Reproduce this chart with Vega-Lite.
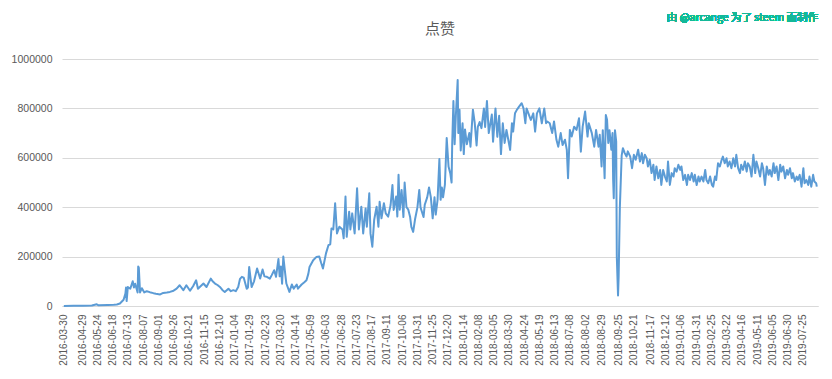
{
  "$schema": "https://vega.github.io/schema/vega-lite/v6.json",
  "autosize": "none",
  "width": 756,
  "height": 247,
  "padding": {"left": 62, "top": 59, "right": 14, "bottom": 73},
  "background": "#ffffff",
  "title": {"text": "点赞", "fontSize": 15, "font": "Noto Sans CJK SC", "fontWeight": "normal", "color": "#595959", "anchor": "middle", "offset": 16, "dy": 40},
  "config": {"view": {"stroke": null}, "axisX": {"labelOverlap": false, "labelSeparation": 0}},
  "data": {"values": [
    {"date":"2016-03-30","value":500},{"date":"2016-04-15","value":1000},{"date":"2016-05-01","value":1500},{"date":"2016-05-15","value":2000},{"date":"2016-05-23","value":7000},{"date":"2016-05-26","value":3000},{"date":"2016-06-10","value":4000},{"date":"2016-06-20","value":5000},{"date":"2016-06-25","value":6000},{"date":"2016-06-30","value":10000},
    {"date":"2016-07-06","value":25000},{"date":"2016-07-09","value":50000},{"date":"2016-07-10","value":75000},{"date":"2016-07-11","value":20000},{"date":"2016-07-13","value":77000},{"date":"2016-07-17","value":70000},{"date":"2016-07-21","value":100000},{"date":"2016-07-23","value":75000},{"date":"2016-07-25","value":90000},{"date":"2016-07-29","value":55000},{"date":"2016-07-30","value":160000},{"date":"2016-07-31","value":155000},
    {"date":"2016-08-02","value":55000},{"date":"2016-08-05","value":72000},{"date":"2016-08-09","value":55000},{"date":"2016-08-13","value":60000},{"date":"2016-08-18","value":56000},{"date":"2016-08-24","value":52000},{"date":"2016-08-28","value":50000},
    {"date":"2016-09-04","value":47000},{"date":"2016-09-09","value":53000},{"date":"2016-09-15","value":55000},{"date":"2016-09-20","value":57000},{"date":"2016-09-26","value":62000},
    {"date":"2016-10-01","value":70000},{"date":"2016-10-06","value":84000},{"date":"2016-10-12","value":64000},{"date":"2016-10-17","value":84000},{"date":"2016-10-23","value":62000},{"date":"2016-10-28","value":80000},
    {"date":"2016-11-02","value":104000},{"date":"2016-11-05","value":70000},{"date":"2016-11-08","value":77000},{"date":"2016-11-14","value":91000},{"date":"2016-11-19","value":77000},{"date":"2016-11-26","value":111000},{"date":"2016-11-29","value":100000},
    {"date":"2016-12-03","value":91000},{"date":"2016-12-07","value":85000},{"date":"2016-12-11","value":77000},{"date":"2016-12-15","value":65000},{"date":"2016-12-19","value":57000},{"date":"2016-12-25","value":70000},{"date":"2016-12-29","value":60000},
    {"date":"2017-01-02","value":64000},{"date":"2017-01-06","value":60000},{"date":"2017-01-10","value":77000},{"date":"2017-01-13","value":110000},{"date":"2017-01-16","value":118000},{"date":"2017-01-19","value":115000},{"date":"2017-01-24","value":70000},{"date":"2017-01-26","value":75000},{"date":"2017-01-28","value":158000},
    {"date":"2017-02-01","value":77000},{"date":"2017-02-05","value":100000},{"date":"2017-02-10","value":152000},{"date":"2017-02-15","value":111000},{"date":"2017-02-19","value":148000},{"date":"2017-02-22","value":120000},{"date":"2017-02-26","value":118000},
    {"date":"2017-03-03","value":111000},{"date":"2017-03-06","value":125000},{"date":"2017-03-10","value":145000},{"date":"2017-03-13","value":118000},{"date":"2017-03-17","value":190000},{"date":"2017-03-19","value":120000},{"date":"2017-03-21","value":160000},{"date":"2017-03-23","value":90000},{"date":"2017-03-25","value":200000},{"date":"2017-03-28","value":133000},{"date":"2017-03-30","value":91000},
    {"date":"2017-04-04","value":57000},{"date":"2017-04-08","value":87000},{"date":"2017-04-11","value":70000},{"date":"2017-04-16","value":87000},{"date":"2017-04-18","value":70000},{"date":"2017-04-24","value":87000},{"date":"2017-04-28","value":95000},
    {"date":"2017-05-02","value":104000},{"date":"2017-05-05","value":130000},{"date":"2017-05-07","value":158000},{"date":"2017-05-13","value":185000},{"date":"2017-05-18","value":198000},{"date":"2017-05-23","value":200000},{"date":"2017-05-26","value":175000},{"date":"2017-05-29","value":152000},
    {"date":"2017-06-03","value":213000},{"date":"2017-06-07","value":246000},{"date":"2017-06-10","value":250000},{"date":"2017-06-12","value":314000},{"date":"2017-06-15","value":310000},{"date":"2017-06-18","value":416000},{"date":"2017-06-21","value":294000},{"date":"2017-06-25","value":321000},{"date":"2017-06-30","value":310000},
    {"date":"2017-07-02","value":274000},{"date":"2017-07-05","value":443000},{"date":"2017-07-07","value":280000},{"date":"2017-07-11","value":382000},{"date":"2017-07-13","value":310000},{"date":"2017-07-16","value":375000},{"date":"2017-07-20","value":294000},{"date":"2017-07-24","value":477000},{"date":"2017-07-27","value":310000},{"date":"2017-07-31","value":402000},
    {"date":"2017-08-03","value":294000},{"date":"2017-08-07","value":395000},{"date":"2017-08-09","value":321000},{"date":"2017-08-13","value":456000},{"date":"2017-08-15","value":294000},{"date":"2017-08-18","value":240000},{"date":"2017-08-21","value":348000},{"date":"2017-08-25","value":402000},{"date":"2017-08-28","value":321000},{"date":"2017-08-30","value":422000},
    {"date":"2017-09-02","value":355000},{"date":"2017-09-06","value":416000},{"date":"2017-09-09","value":375000},{"date":"2017-09-13","value":362000},{"date":"2017-09-17","value":409000},{"date":"2017-09-20","value":490000},{"date":"2017-09-22","value":389000},{"date":"2017-09-26","value":443000},{"date":"2017-09-28","value":362000},{"date":"2017-09-30","value":531000},
    {"date":"2017-10-02","value":390000},{"date":"2017-10-05","value":470000},{"date":"2017-10-08","value":360000},{"date":"2017-10-10","value":500000},{"date":"2017-10-13","value":400000},{"date":"2017-10-16","value":390000},{"date":"2017-10-19","value":360000},{"date":"2017-10-21","value":320000},{"date":"2017-10-24","value":300000},{"date":"2017-10-27","value":350000},{"date":"2017-10-31","value":400000},
    {"date":"2017-11-03","value":470000},{"date":"2017-11-05","value":400000},{"date":"2017-11-10","value":360000},{"date":"2017-11-12","value":410000},{"date":"2017-11-16","value":440000},{"date":"2017-11-19","value":480000},{"date":"2017-11-22","value":440000},{"date":"2017-11-25","value":355000},{"date":"2017-11-28","value":440000},{"date":"2017-11-30","value":370000},
    {"date":"2017-12-03","value":430000},{"date":"2017-12-06","value":595000},{"date":"2017-12-08","value":430000},{"date":"2017-12-10","value":480000},{"date":"2017-12-12","value":440000},{"date":"2017-12-15","value":490000},{"date":"2017-12-18","value":680000},{"date":"2017-12-21","value":565000},{"date":"2017-12-24","value":535000},{"date":"2017-12-26","value":500000},{"date":"2017-12-27","value":655000},{"date":"2017-12-29","value":830000},{"date":"2017-12-31","value":655000},
    {"date":"2018-01-02","value":770000},{"date":"2018-01-05","value":915000},{"date":"2018-01-06","value":700000},{"date":"2018-01-08","value":795000},{"date":"2018-01-10","value":630000},{"date":"2018-01-13","value":740000},{"date":"2018-01-15","value":615000},{"date":"2018-01-17","value":715000},{"date":"2018-01-20","value":655000},{"date":"2018-01-24","value":700000},{"date":"2018-01-26","value":645000},{"date":"2018-01-30","value":795000},
    {"date":"2018-02-02","value":740000},{"date":"2018-02-05","value":650000},{"date":"2018-02-07","value":725000},{"date":"2018-02-10","value":745000},{"date":"2018-02-13","value":720000},{"date":"2018-02-17","value":800000},{"date":"2018-02-19","value":725000},{"date":"2018-02-22","value":830000},{"date":"2018-02-25","value":700000},
    {"date":"2018-03-02","value":775000},{"date":"2018-03-04","value":665000},{"date":"2018-03-08","value":800000},{"date":"2018-03-11","value":685000},{"date":"2018-03-14","value":770000},{"date":"2018-03-17","value":615000},{"date":"2018-03-20","value":740000},{"date":"2018-03-23","value":660000},{"date":"2018-03-26","value":713000},{"date":"2018-03-29","value":673000},
    {"date":"2018-04-01","value":632000},{"date":"2018-04-04","value":740000},{"date":"2018-04-06","value":706000},{"date":"2018-04-09","value":780000},{"date":"2018-04-12","value":794000},{"date":"2018-04-16","value":808000},{"date":"2018-04-20","value":821000},{"date":"2018-04-23","value":800000},{"date":"2018-04-26","value":740000},{"date":"2018-04-28","value":800000},
    {"date":"2018-05-01","value":780000},{"date":"2018-05-05","value":753000},{"date":"2018-05-09","value":780000},{"date":"2018-05-12","value":706000},{"date":"2018-05-15","value":780000},{"date":"2018-05-19","value":800000},{"date":"2018-05-23","value":740000},{"date":"2018-05-27","value":800000},{"date":"2018-05-30","value":740000},
    {"date":"2018-06-01","value":747000},{"date":"2018-06-05","value":740000},{"date":"2018-06-09","value":700000},{"date":"2018-06-12","value":747000},{"date":"2018-06-16","value":673000},{"date":"2018-06-19","value":645000},{"date":"2018-06-23","value":700000},{"date":"2018-06-26","value":652000},{"date":"2018-06-30","value":673000},
    {"date":"2018-07-03","value":632000},{"date":"2018-07-05","value":517000},{"date":"2018-07-08","value":713000},{"date":"2018-07-11","value":686000},{"date":"2018-07-15","value":726000},{"date":"2018-07-19","value":713000},{"date":"2018-07-23","value":760000},{"date":"2018-07-26","value":625000},{"date":"2018-07-29","value":726000},
    {"date":"2018-08-02","value":787000},{"date":"2018-08-06","value":686000},{"date":"2018-08-08","value":740000},{"date":"2018-08-13","value":700000},{"date":"2018-08-17","value":645000},{"date":"2018-08-20","value":713000},{"date":"2018-08-24","value":645000},{"date":"2018-08-26","value":693000},{"date":"2018-08-29","value":565000},{"date":"2018-08-31","value":712000},
    {"date":"2018-09-03","value":517000},{"date":"2018-09-05","value":773000},{"date":"2018-09-07","value":754000},{"date":"2018-09-09","value":660000},{"date":"2018-09-11","value":712000},{"date":"2018-09-14","value":633000},{"date":"2018-09-16","value":700000},{"date":"2018-09-17","value":510000},{"date":"2018-09-18","value":436000},{"date":"2018-09-20","value":712000},{"date":"2018-09-22","value":666000},{"date":"2018-09-23","value":200000},{"date":"2018-09-25","value":43000},{"date":"2018-09-26","value":118000},{"date":"2018-09-28","value":400000},
    {"date":"2018-10-01","value":610000},{"date":"2018-10-03","value":639000},{"date":"2018-10-06","value":619000},{"date":"2018-10-09","value":605000},{"date":"2018-10-11","value":626000},{"date":"2018-10-15","value":605000},{"date":"2018-10-18","value":558000},{"date":"2018-10-21","value":612000},{"date":"2018-10-24","value":592000},{"date":"2018-10-28","value":633000},{"date":"2018-10-31","value":585000},
    {"date":"2018-11-03","value":619000},{"date":"2018-11-05","value":578000},{"date":"2018-11-08","value":612000},{"date":"2018-11-11","value":598000},{"date":"2018-11-13","value":565000},{"date":"2018-11-16","value":592000},{"date":"2018-11-19","value":538000},{"date":"2018-11-22","value":572000},{"date":"2018-11-24","value":510000},{"date":"2018-11-27","value":565000},{"date":"2018-11-30","value":517000},
    {"date":"2018-12-03","value":551000},{"date":"2018-12-05","value":490000},{"date":"2018-12-08","value":551000},{"date":"2018-12-11","value":524000},{"date":"2018-12-14","value":504000},{"date":"2018-12-16","value":585000},{"date":"2018-12-19","value":490000},{"date":"2018-12-22","value":538000},{"date":"2018-12-25","value":524000},{"date":"2018-12-27","value":558000},{"date":"2018-12-30","value":544000},
    {"date":"2019-01-02","value":572000},{"date":"2019-01-05","value":551000},{"date":"2019-01-07","value":565000},{"date":"2019-01-10","value":510000},{"date":"2019-01-13","value":531000},{"date":"2019-01-16","value":490000},{"date":"2019-01-18","value":531000},{"date":"2019-01-21","value":510000},{"date":"2019-01-24","value":538000},{"date":"2019-01-27","value":504000},{"date":"2019-01-29","value":531000},
    {"date":"2019-02-01","value":490000},{"date":"2019-02-04","value":524000},{"date":"2019-02-06","value":504000},{"date":"2019-02-09","value":524000},{"date":"2019-02-12","value":504000},{"date":"2019-02-15","value":551000},{"date":"2019-02-17","value":510000},{"date":"2019-02-20","value":497000},{"date":"2019-02-23","value":524000},{"date":"2019-02-26","value":490000},{"date":"2019-02-28","value":483000},
    {"date":"2019-03-03","value":524000},{"date":"2019-03-05","value":510000},{"date":"2019-03-08","value":578000},{"date":"2019-03-11","value":565000},{"date":"2019-03-14","value":592000},{"date":"2019-03-16","value":605000},{"date":"2019-03-19","value":578000},{"date":"2019-03-22","value":598000},{"date":"2019-03-24","value":565000},{"date":"2019-03-27","value":585000},{"date":"2019-03-30","value":558000},
    {"date":"2019-04-02","value":598000},{"date":"2019-04-05","value":565000},{"date":"2019-04-07","value":612000},{"date":"2019-04-10","value":558000},{"date":"2019-04-13","value":538000},{"date":"2019-04-15","value":572000},{"date":"2019-04-18","value":551000},{"date":"2019-04-21","value":585000},{"date":"2019-04-24","value":544000},{"date":"2019-04-26","value":578000},{"date":"2019-04-29","value":565000},
    {"date":"2019-05-02","value":524000},{"date":"2019-05-05","value":612000},{"date":"2019-05-08","value":538000},{"date":"2019-05-10","value":585000},{"date":"2019-05-13","value":558000},{"date":"2019-05-16","value":524000},{"date":"2019-05-19","value":578000},{"date":"2019-05-21","value":558000},{"date":"2019-05-24","value":490000},{"date":"2019-05-27","value":565000},{"date":"2019-05-30","value":531000},
    {"date":"2019-06-01","value":551000},{"date":"2019-06-04","value":524000},{"date":"2019-06-07","value":578000},{"date":"2019-06-09","value":538000},{"date":"2019-06-12","value":565000},{"date":"2019-06-15","value":510000},{"date":"2019-06-18","value":572000},{"date":"2019-06-20","value":544000},{"date":"2019-06-23","value":565000},{"date":"2019-06-26","value":517000},{"date":"2019-06-29","value":551000},
    {"date":"2019-07-01","value":531000},{"date":"2019-07-04","value":558000},{"date":"2019-07-07","value":517000},{"date":"2019-07-09","value":538000},{"date":"2019-07-12","value":504000},{"date":"2019-07-15","value":524000},{"date":"2019-07-17","value":510000},{"date":"2019-07-20","value":531000},{"date":"2019-07-23","value":483000},{"date":"2019-07-26","value":558000},{"date":"2019-07-28","value":497000},{"date":"2019-07-31","value":510000},
    {"date":"2019-08-03","value":490000},{"date":"2019-08-05","value":524000},{"date":"2019-08-08","value":483000},{"date":"2019-08-11","value":531000},{"date":"2019-08-13","value":504000},{"date":"2019-08-16","value":497000},{"date":"2019-08-17","value":483000}
  ]},
  "layer": [
    {
      "mark": {"type": "line", "color": "#5B9BD5", "strokeWidth": 2, "strokeJoin": "round"},
      "encoding": {
        "x": {
          "field": "date", "type": "temporal",
          "scale": {"type": "utc", "domain": [{"year": 2016, "month": 3, "date": 27, "utc": true}, {"year": 2019, "month": 8, "date": 19, "utc": true}]},
          "axis": {
            "title": null, "format": "%Y-%m-%d", "labelAngle": -90, "labelFontSize": 10, "labelFont": "Liberation Sans", "labelColor": "#595959",
            "labelPadding": 8, "ticks": false, "grid": false, "domainColor": "#d9d9d9", "domainWidth": 1, "labelOverlap": false, "labelSeparation": 0, "labelFlush": false, "labelBound": false,
            "tickCount": 200,
            "values": [
              {"year":2016,"month":3,"date":30,"utc":true},{"year":2016,"month":4,"date":29,"utc":true},{"year":2016,"month":5,"date":24,"utc":true},{"year":2016,"month":6,"date":18,"utc":true},{"year":2016,"month":7,"date":13,"utc":true},{"year":2016,"month":8,"date":7,"utc":true},{"year":2016,"month":9,"date":1,"utc":true},{"year":2016,"month":9,"date":26,"utc":true},{"year":2016,"month":10,"date":21,"utc":true},{"year":2016,"month":11,"date":15,"utc":true},{"year":2016,"month":12,"date":10,"utc":true},
              {"year":2017,"month":1,"date":4,"utc":true},{"year":2017,"month":1,"date":29,"utc":true},{"year":2017,"month":2,"date":23,"utc":true},{"year":2017,"month":3,"date":20,"utc":true},{"year":2017,"month":4,"date":14,"utc":true},{"year":2017,"month":5,"date":9,"utc":true},{"year":2017,"month":6,"date":3,"utc":true},{"year":2017,"month":6,"date":28,"utc":true},{"year":2017,"month":7,"date":23,"utc":true},{"year":2017,"month":8,"date":17,"utc":true},{"year":2017,"month":9,"date":11,"utc":true},{"year":2017,"month":10,"date":6,"utc":true},{"year":2017,"month":10,"date":31,"utc":true},{"year":2017,"month":11,"date":25,"utc":true},{"year":2017,"month":12,"date":20,"utc":true},
              {"year":2018,"month":1,"date":14,"utc":true},{"year":2018,"month":2,"date":8,"utc":true},{"year":2018,"month":3,"date":5,"utc":true},{"year":2018,"month":3,"date":30,"utc":true},{"year":2018,"month":4,"date":24,"utc":true},{"year":2018,"month":5,"date":19,"utc":true},{"year":2018,"month":6,"date":13,"utc":true},{"year":2018,"month":7,"date":8,"utc":true},{"year":2018,"month":8,"date":2,"utc":true},{"year":2018,"month":8,"date":29,"utc":true},{"year":2018,"month":9,"date":25,"utc":true},{"year":2018,"month":10,"date":21,"utc":true},{"year":2018,"month":11,"date":17,"utc":true},{"year":2018,"month":12,"date":12,"utc":true},
              {"year":2019,"month":1,"date":6,"utc":true},{"year":2019,"month":1,"date":31,"utc":true},{"year":2019,"month":2,"date":25,"utc":true},{"year":2019,"month":3,"date":22,"utc":true},{"year":2019,"month":4,"date":16,"utc":true},{"year":2019,"month":5,"date":11,"utc":true},{"year":2019,"month":6,"date":5,"utc":true},{"year":2019,"month":6,"date":30,"utc":true},{"year":2019,"month":7,"date":25,"utc":true}
            ]
          }
        },
        "y": {
          "field": "value", "type": "quantitative",
          "scale": {"domain": [0, 1000000], "nice": false},
          "axis": {
            "title": null, "values": [0,100000,200000,300000,400000,500000,600000,700000,800000,900000,1000000], "format": "d",
            "labelFontSize": 10.5, "labelFont": "Liberation Sans", "labelColor": "#595959", "labelPadding": 10,
            "ticks": false, "domain": false, "gridColor": "#d9d9d9", "gridWidth": 1
          }
        }
      }
    },
    {
      "mark": {"type": "text", "text": "由 @arcange 为了 steem 而制作", "align": "right", "baseline": "middle", "font": "Noto Sans CJK SC", "fontSize": 10.5, "color": "#14b898", "clip": false},
      "encoding": {
        "x": {"datum": {"year": 2019, "month": 8, "date": 19, "utc": true}, "type": "temporal"},
        "y": {"datum": 1165000, "type": "quantitative"}
      }
    }
  ]
}
